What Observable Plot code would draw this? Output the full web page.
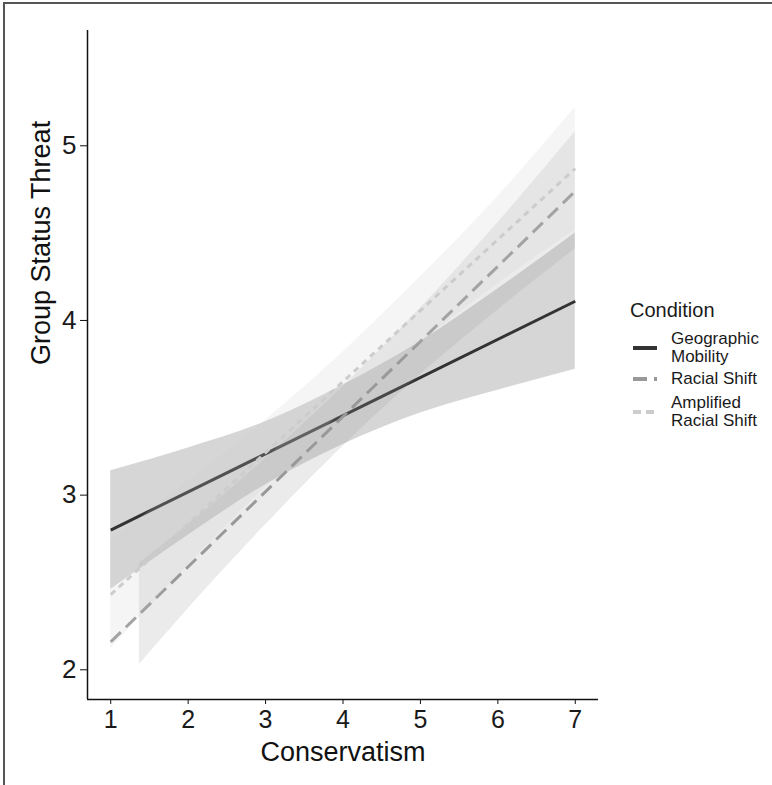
<!DOCTYPE html>
<html>
<head>
<meta charset="utf-8">
<script src="https://cdn.jsdelivr.net/npm/d3@7"></script>
<script src="https://cdn.jsdelivr.net/npm/@observablehq/plot@0.6"></script>
<style>
  html, body { margin: 0; padding: 0; background: #fff; }
  #wrap { position: relative; width: 772px; height: 785px; font-family: "Liberation Sans", Arial, Helvetica, sans-serif; color: #1a1a1a; }
  #border { position: absolute; left: 3px; top: 2px; width: 769px; height: 783px; border-top: 2px solid #555; border-left: 2px solid #555; box-sizing: border-box; pointer-events: none; }
  .lg { position: absolute; white-space: nowrap; }
  .lg-title { font-size: 20px; line-height: 20px; left: 630px; top: 300px; }
  .lg-text { font-size: 17px; line-height: 18px; left: 671px; }
  .lg-sw { position: absolute; left: 633px; }
</style>
</head>
<body>
<div id="wrap"><div id="border"></div></div>
<script>
// ---- data ----
const conditions = ["Geographic Mobility", "Racial Shift", "Amplified Racial Shift"];
const legendLabels = [["Geographic", "Mobility"], ["Racial Shift"], ["Amplified", "Racial Shift"]];
const lineColors = ["#333333", "#999999", "#cccccc"];
const lineDashes = [null, "14 7", "6 5"];

// fitted lines (straight, endpoints)
const lineX = [1, 7];
const gmLine = [2.80, 4.11];
const racialLine = [2.16, 4.74];
const ampLine = [2.43, 4.87];

// confidence bands
const gmBandX = [1, 2, 3, 4, 5, 6, 7];
const gmLower = [2.46, 2.77, 3.06, 3.29, 3.47, 3.60, 3.72];
const gmUpper = [3.14, 3.27, 3.42, 3.63, 3.88, 4.18, 4.50];

const racialBandX = [1.37, 2, 3, 4, 5, 6, 7];
const racialLower = [2.03, 2.35, 2.83, 3.28, 3.69, 4.06, 4.41];
const racialUpper = [2.61, 2.83, 3.21, 3.62, 4.07, 4.56, 5.08];

const ampBandX = [1, 2, 3, 4, 5, 6, 7];
const ampLower = [2.12, 2.60, 3.05, 3.48, 3.87, 4.21, 4.52];
const ampUpper = [2.74, 3.08, 3.43, 3.82, 4.25, 4.71, 5.22];

const xTicks = [1, 2, 3, 4, 5, 6, 7];
const yTicks = [2, 3, 4, 5];
const xDomain = [0.7, 7.3];
const yDomain = [1.83, 5.66];
const xTitle = "Conservatism";
const yTitle = "Group Status Threat";

// ---- build tables ----
const bands = [
  {xs: gmBandX, lo: gmLower, hi: gmUpper},
  {xs: racialBandX, lo: racialLower, hi: racialUpper},
  {xs: ampBandX, lo: ampLower, hi: ampUpper}
].map((b, i) => b.xs.map((x, j) => ({condition: conditions[i], x, lo: b.lo[j], hi: b.hi[j]})));
const lines = [gmLine, racialLine, ampLine].map((ys, i) => lineX.map((x, j) => ({condition: conditions[i], x, y: ys[j]})));

const groupMarks = [];
conditions.forEach((c, i) => {
  groupMarks.push(Plot.areaY(bands[i], {x: "x", y1: "lo", y2: "hi", fill: lineColors[i], fillOpacity: 0.2, curve: "monotone-x"}));
  groupMarks.push(Plot.lineY(lines[i], {x: "x", y: "y", stroke: lineColors[i], strokeWidth: 3, strokeLinecap: "butt", strokeDasharray: lineDashes[i] || undefined}));
});

const fmt = d => String(d);

const chart = Plot.plot({
  width: 772,
  height: 785,
  marginLeft: 87,
  marginRight: 174,
  marginTop: 30,
  marginBottom: 86,
  style: {fontFamily: "'Liberation Sans', Arial, Helvetica, sans-serif", fontSize: "25px", color: "#1a1a1a", background: "transparent", overflow: "visible"},
  x: {domain: xDomain},
  y: {domain: yDomain},
  marks: [
    ...groupMarks,
    Plot.ruleY([yDomain[0]], {stroke: "#111", strokeWidth: 1.5}),
    Plot.ruleX([xDomain[0]], {stroke: "#111", strokeWidth: 1.5}),
    Plot.axisX(xTicks, {tickSize: 5, tickPadding: 6, label: null, stroke: "#111", fontSize: 25, tickFormat: fmt}),
    Plot.axisY(yTicks, {tickSize: 7, tickPadding: 4, label: null, stroke: "#111", fontSize: 26, tickFormat: fmt}),
    Plot.text([xTitle], {frameAnchor: "bottom", dy: 61, fontSize: 27, fill: "#111"}),
    Plot.text([yTitle], {frameAnchor: "left", dx: -46, rotate: -90, fontSize: 27, fill: "#111"})
  ]
});
chart.style.position = "absolute";
chart.style.left = "0px";
chart.style.top = "0px";
const wrap = document.getElementById("wrap");
wrap.insertBefore(chart, wrap.firstChild);

// ---- legend ----
const t = document.createElement("div");
t.className = "lg lg-title";
t.textContent = "Condition";
wrap.appendChild(t);
const itemTops = [330, 370, 394];
legendLabels.forEach((lab, i) => {
  const d = document.createElement("div");
  d.className = "lg lg-text";
  d.style.top = itemTops[i] + "px";
  d.innerHTML = lab.join("<br>");
  wrap.appendChild(d);
  const h = lab.length * 18;
  const cy = itemTops[i] + h / 2;
  const ns = "http://www.w3.org/2000/svg";
  const s = document.createElementNS(ns, "svg");
  s.setAttribute("width", 26);
  s.setAttribute("height", 10);
  s.setAttribute("class", "lg-sw");
  s.style.top = (cy - 5) + "px";
  const l = document.createElementNS(ns, "line");
  l.setAttribute("x1", 0); l.setAttribute("x2", 24);
  l.setAttribute("y1", 5); l.setAttribute("y2", 5);
  l.setAttribute("stroke", lineColors[i]);
  l.setAttribute("stroke-width", 4);
  if (lineDashes[i]) l.setAttribute("stroke-dasharray", i === 2 ? "8 5" : lineDashes[i]);
  s.appendChild(l);
  wrap.appendChild(s);
});
</script>
</body>
</html>
